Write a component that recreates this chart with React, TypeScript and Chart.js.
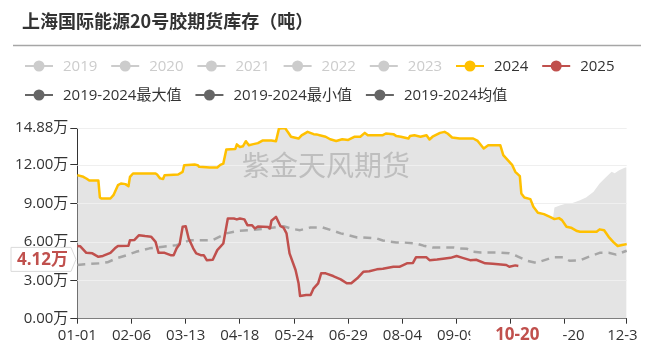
import React, { useEffect, useRef } from "react";
import { Chart, registerables } from "chart.js";

Chart.register(...registerables);

// ---------- text ----------
const TITLE = "上海国际能源20号胶期货库存（吨）";
const WATERMARK = "紫金天风期货";
const LEGEND_ROW1 = ["2019", "2020", "2021", "2022", "2023", "2024", "2025"];
const LEGEND_ROW1_COLORS = ["#CCCCCC", "#CCCCCC", "#CCCCCC", "#CCCCCC", "#CCCCCC", "#FFC000", "#C0504D"];
const LEGEND_ROW1_ACTIVE = [false, false, false, false, false, true, true];
const LEGEND_ROW2 = ["2019-2024最大值", "2019-2024最小值", "2019-2024均值"];

// ---------- axes ----------
const MONTH_DAYS = [31, 29, 31, 30, 31, 30, 31, 31, 30, 31, 30, 31];
const Y_TICKS = [0, 3, 6, 9, 12, 14.88];
const X_TICK_DATES = ["01-01", "02-06", "03-13", "04-18", "05-24", "06-29", "08-04", "09-09", "10-15", "11-20", "12-31"];
const LATEST_DATE = "10-20";
const LATEST_VALUE = 4.12;

// ---------- series (万吨) ----------
const D2024 = ["01-01","01-05","01-07","01-09","01-15","01-16","01-17","01-23","01-25","01-28",
  "01-30","02-02","02-04","02-05","02-07","02-22","02-23","02-25","02-27","02-28",
  "03-08","03-11","03-12","03-19","03-21","03-22","03-29","04-03","04-05","04-07",
  "04-09","04-15","04-16","04-18","04-20","04-22","04-24","04-27","04-30","05-03",
  "05-09","05-12","05-14","05-18","05-20","05-22","05-27","05-29","06-02","06-06",
  "06-08","06-10","06-14","06-17","06-21","06-25","06-29","07-03","07-07","07-10",
  "07-12","07-22","07-24","07-29","07-31","08-03","08-08","08-09","08-12","08-16",
  "08-20","08-22","08-24","08-29","09-01","09-03","09-06","09-11","09-20","09-23",
  "09-27","09-30","10-08","10-10","10-13","10-16","10-18","10-21","10-22","10-24",
  "10-28","10-30","11-02","11-06","11-10","11-13","11-16","11-18","11-21","11-24",
  "11-28","11-30","12-11","12-13","12-16","12-19","12-22","12-25","12-28","12-31"];
const V2024 = [11.2,11.07,10.94,10.78,10.78,9.46,9.38,9.38,9.64,10.42,
  10.55,10.5,10.34,11.07,11.33,11.33,11.25,10.95,10.9,11.2,
  11.25,11.46,11.98,12.03,11.98,11.85,11.8,11.8,12.0,12.1,
  13.2,13.25,13.6,13.4,13.45,13.85,13.54,13.62,13.7,13.9,
  13.9,13.85,14.85,14.88,14.55,14.2,14.06,14.3,14.58,14.4,
  14.38,14.32,14.2,14.0,13.87,14.0,13.95,14.19,14.2,14.5,
  14.32,14.32,14.45,14.4,14.25,14.2,14.06,14.25,14.32,14.2,
  14.32,13.98,14.2,14.5,14.58,14.45,14.14,14.06,14.06,13.87,
  13.28,13.54,13.54,12.76,12.37,11.98,11.46,11.12,9.77,9.46,
  9.33,8.73,8.26,8.16,7.95,7.77,7.85,7.69,7.17,7.1,
  6.84,6.78,6.78,6.97,6.9,6.39,6.0,5.67,5.75,5.82];

const D2025 = ["01-01","01-03","01-07","01-11","01-13","01-15","01-18","01-23","01-26","01-28",
  "02-04","02-05","02-08","02-11","02-15","02-19","02-22","02-24","02-28","03-03",
  "03-05","03-07","03-09","03-11","03-13","03-15","03-18","03-20","03-23","03-25",
  "03-27","03-31","04-03","04-07","04-10","04-14","04-16","04-18","04-21","04-23",
  "04-26","04-28","04-30","05-07","05-08","05-09","05-12","05-15","05-17","05-19",
  "05-21","05-25","05-27","05-28","06-01","06-04","06-06","06-09","06-11","06-14",
  "06-19","06-24","06-28","07-01","07-05","07-09","07-13","07-18","07-22","07-29",
  "08-02","08-07","08-11","08-13","08-20","08-22","08-27","08-31","09-05","09-09",
  "09-13","09-18","09-22","09-28","10-03","10-12","10-14","10-18","10-20"];
const V2025 = [5.67,5.65,5.14,5.1,4.96,4.83,4.9,5.14,5.49,5.67,
  5.7,6.13,6.15,6.52,6.45,6.4,6.0,5.14,5.14,4.96,
  4.96,5.49,5.82,7.17,7.22,6.26,5.49,5.1,4.96,4.96,
  4.57,4.6,5.35,5.87,7.82,7.82,7.75,7.82,7.75,7.3,
  7.3,7.04,7.2,7.15,7.04,7.64,7.95,7.22,7.1,6.66,
  5.1,3.8,2.76,1.77,1.85,1.85,2.37,2.76,3.54,3.54,
  3.33,3.07,2.76,2.76,3.15,3.66,3.7,3.85,3.9,4.05,
  4.05,4.32,4.35,4.79,4.79,4.57,4.62,4.68,4.75,4.89,
  4.75,4.57,4.6,4.32,4.28,4.19,4.05,4.16,4.12];

const DMEAN = ["01-01","01-06","01-16","01-21","01-27","02-03","02-09","02-18","02-27","03-07",
  "03-16","03-25","03-31","04-09","04-16","04-25","05-06","05-17","05-23","05-28",
  "06-04","06-12","06-19","06-24","06-28","07-05","07-09","07-18","07-22","07-31",
  "08-04","08-13","08-18","08-24","08-29","09-07","09-11","09-16","09-20","09-25",
  "10-06","10-14","10-19","10-26","11-01","11-08","11-12","11-19","11-23","11-30",
  "12-04","12-13","12-19","12-24","12-31"];
const VMEAN = [4.19,4.25,4.32,4.4,4.71,4.96,5.22,5.49,5.61,5.74,
  6.13,6.13,6.13,6.66,6.84,6.91,7.04,7.22,7.0,6.91,
  7.12,7.12,6.86,6.66,6.55,6.34,6.34,6.26,6.1,5.95,
  5.95,5.87,5.7,5.56,5.56,5.56,5.49,5.45,5.22,5.17,
  5.17,5.1,4.89,4.52,4.36,4.63,4.79,4.79,4.52,4.55,
  4.75,5.14,5.14,5.0,5.3];

// max of 2019-2024: follows 2024 until MAX_SPLIT, then these readings
const MAX_SPLIT = "11-12";
const DMAX_TAIL = ["11-12","11-13","11-17","11-21","11-25","11-30","12-04","12-09","12-13","12-17","12-21","12-23","12-26","12-30","12-31"];
const VMAX_TAIL = [7.82,8.68,8.86,8.99,9.02,9.25,9.46,9.9,10.55,11.02,11.46,11.35,11.59,11.8,11.8];

// ---------- helpers ----------
const pad2 = (n: number) => (n < 10 ? "0" + n : "" + n);
const CATEGORIES: string[] = [];
MONTH_DAYS.forEach((days, m) => {
  for (let d = 1; d <= days; d++) CATEGORIES.push(pad2(m + 1) + "-" + pad2(d));
});
const toPts = (dates: string[], vals: number[]) => dates.map((x, i) => ({ x, y: vals[i] }));

const FONT = '"Open Sans", "Noto Sans CJK SC", sans-serif';
const RED = "#C0504D";
const YELLOW = "#FFC000";

const decorPlugin = {
  id: "decor",
  beforeDraw(chart: any) {
    const ctx = chart.ctx;
    ctx.save();
    ctx.textBaseline = "middle";
    ctx.textAlign = "left";
    ctx.font = 'bold 18px "Noto Sans CJK SC", sans-serif';
    ctx.fillStyle = "#333333";
    ctx.fillText(TITLE, 22, 21);
    ctx.strokeStyle = "#A6A6A6";
    ctx.lineWidth = 1.5;
    ctx.beginPath();
    ctx.moveTo(13, 45.5);
    ctx.lineTo(641, 45.5);
    ctx.stroke();

    ctx.font = "15px " + FONT;
    const drawItem = (sx: number, y: number, color: string, text: string, textColor: string) => {
      ctx.strokeStyle = color;
      ctx.lineWidth = 2;
      ctx.beginPath();
      ctx.moveTo(sx, y);
      ctx.lineTo(sx + 28, y);
      ctx.stroke();
      ctx.fillStyle = color;
      ctx.beginPath();
      ctx.arc(sx + 14, y, 5.5, 0, Math.PI * 2);
      ctx.fill();
      ctx.fillStyle = textColor;
      ctx.fillText(text, sx + 38, y + 1);
      return sx + 38 + ctx.measureText(text).width;
    };
    LEGEND_ROW1.forEach((t, k) => {
      drawItem(25 + 86.2 * k, 66, LEGEND_ROW1_COLORS[k], t, LEGEND_ROW1_ACTIVE[k] ? "#333333" : "#CCCCCC");
    });
    let sx = 25;
    LEGEND_ROW2.forEach((t) => {
      sx = drawItem(sx, 95, "#666666", t, "#333333") + 14;
    });
    ctx.restore();
  },
  afterDatasetDraw(chart: any, args: any) {
    if (args.meta.label !== LEGEND_ROW2[0]) return;
    const { ctx, chartArea, scales } = chart;
    ctx.save();
    ctx.strokeStyle = "#EFEFEF";
    ctx.lineWidth = 1;
    Y_TICKS.forEach((v) => {
      if (v === 0) return;
      const y = Math.round(scales.y.getPixelForValue(v)) + 0.5;
      ctx.beginPath();
      ctx.moveTo(chartArea.left, y);
      ctx.lineTo(chartArea.right, y);
      ctx.stroke();
    });
    ctx.font = '28px "Noto Sans CJK SC", sans-serif';
    ctx.fillStyle = "rgba(120,120,120,0.35)";
    ctx.textAlign = "center";
    ctx.textBaseline = "middle";
    ctx.fillText(WATERMARK, 326, 165);
    ctx.restore();
  },
  afterDraw(chart: any) {
    const { ctx, scales } = chart;
    ctx.save();
    ctx.fillStyle = "#FFFFFF";
    ctx.fillRect(637.5, 320, chart.width - 637.5, chart.height - 320);

    const xi = CATEGORIES.indexOf(LATEST_DATE);
    const xp = scales.x.getPixelForValue(xi);
    ctx.fillStyle = "#FFFFFF";
    ctx.fillRect(xp - 48, 324.5, 90, 24);
    ctx.font = "bold 17px " + FONT;
    ctx.fillStyle = RED;
    ctx.textAlign = "center";
    ctx.textBaseline = "middle";
    ctx.fillText(LATEST_DATE, xp - 1, 335);

    const yp = scales.y.getPixelForValue(LATEST_VALUE) - 6.5;
    ctx.beginPath();
    ctx.moveTo(11, yp - 12);
    ctx.lineTo(71, yp - 12);
    ctx.lineTo(76, yp);
    ctx.lineTo(71, yp + 12);
    ctx.lineTo(11, yp + 12);
    ctx.closePath();
    ctx.fillStyle = "#FFFFFF";
    ctx.fill();
    ctx.strokeStyle = "#DADADA";
    ctx.lineWidth = 1;
    ctx.stroke();
    ctx.font = "bold 17px " + FONT;
    ctx.fillStyle = RED;
    ctx.textAlign = "right";
    ctx.fillText(LATEST_VALUE.toFixed(2) + "万", 68, yp + 0.5);
    ctx.restore();
  },
};

export default function App() {
  const ref = useRef<HTMLCanvasElement | null>(null);
  useEffect(() => {
    if (!ref.current) return;
    const splitIdx = CATEGORIES.indexOf(MAX_SPLIT);
    const maxPts = toPts(D2024, V2024)
      .filter((p) => CATEGORIES.indexOf(p.x) < splitIdx)
      .concat(toPts(DMAX_TAIL, VMAX_TAIL));

    const chart = new Chart(ref.current, {
      type: "line",
      data: {
        labels: CATEGORIES,
        datasets: [
          { label: "2025", data: toPts(D2025, V2025), borderColor: RED, borderWidth: 2.5, pointRadius: 0, fill: false },
          { label: "2024", data: toPts(D2024, V2024), borderColor: YELLOW, borderWidth: 2.5, pointRadius: 0, fill: false },
          { label: LEGEND_ROW2[2], data: toPts(DMEAN, VMEAN), borderColor: "#A6A6A6", borderWidth: 2.5, borderDash: [8, 6], pointRadius: 0, fill: false },
          { label: LEGEND_ROW2[0], data: maxPts, borderWidth: 0, borderColor: "rgba(0,0,0,0)", backgroundColor: "#E4E4E4", pointRadius: 0, fill: "origin" },
        ],
      } as any,
      options: {
        responsive: false,
        animation: false,
        events: [],
        layout: { padding: { top: 128, right: 26.3, bottom: 0, left: 0 } },
        elements: { line: { tension: 0, borderJoinStyle: "round" } },
        plugins: { legend: { display: false }, tooltip: { enabled: false }, title: { display: false } },
        scales: {
          x: {
            type: "category",
            offset: false,
            grid: { drawOnChartArea: false, drawTicks: true, tickLength: 5, tickColor: "#333333" },
            border: { display: true, color: "#333333", width: 1 },
            ticks: {
              autoSkip: false,
              maxRotation: 0,
              minRotation: 0,
              padding: 3,
              color: "#333333",
              font: { size: 15, family: FONT },
              callback: (v: any) => CATEGORIES[v as number],
            },
            afterBuildTicks: (s: any) => {
              s.ticks = X_TICK_DATES.map((d) => ({ value: CATEGORIES.indexOf(d) }));
            },
            afterFit: (s: any) => {
              s.height = 31.3;
            },
          },
          y: {
            type: "linear",
            min: 0,
            max: 14.88,
            grid: { drawOnChartArea: false, drawTicks: true, tickLength: 7, tickColor: "#333333" },
            border: { display: true, color: "#333333", width: 1 },
            ticks: {
              padding: 2,
              color: "#333333",
              font: { size: 15, family: FONT },
              callback: (v: any) => Number(v).toFixed(2) + "万",
            },
            afterBuildTicks: (s: any) => {
              s.ticks = Y_TICKS.map((v) => ({ value: v }));
            },
            afterFit: (s: any) => {
              s.width = 77.3;
            },
          },
        },
      } as any,
      plugins: [decorPlugin as any],
    });
    return () => chart.destroy();
  }, []);

  return (
    <div style={{ position: "fixed", left: 0, top: 0, width: 653, height: 350, background: "#FFFFFF" }}>
      <canvas ref={ref} width={653} height={350} style={{ display: "block" }} />
    </div>
  );
}
